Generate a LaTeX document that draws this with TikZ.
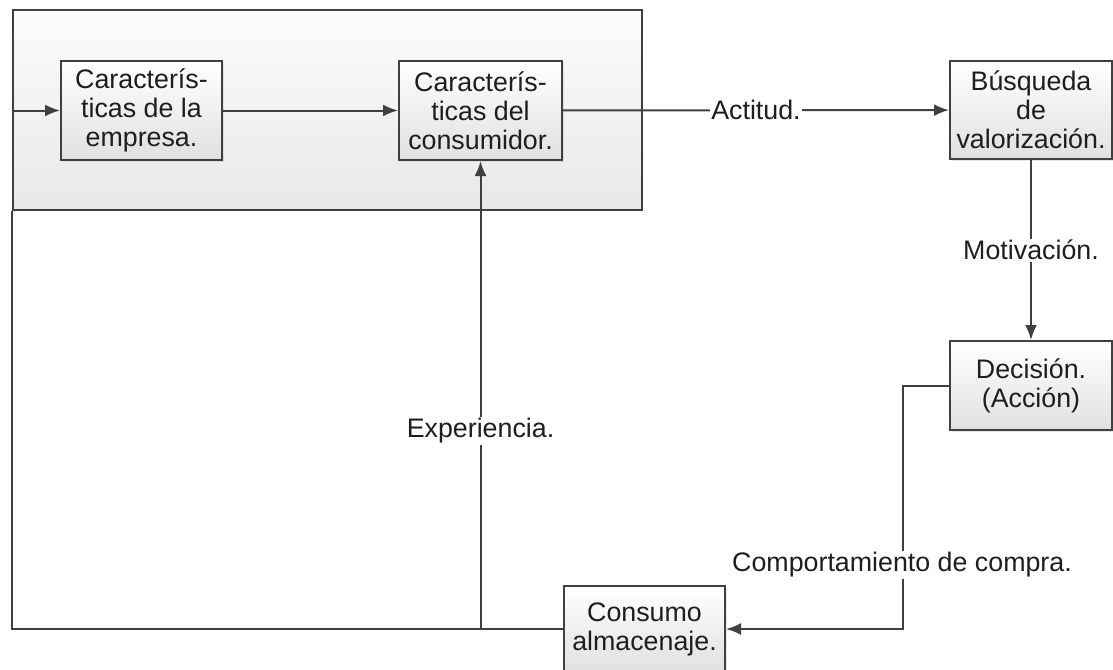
\documentclass[tikz,border=0pt]{standalone}
\usepackage{fontspec}
\setmainfont{Liberation Sans}
\usetikzlibrary{arrows.meta,shadows}

\definecolor{linea}{HTML}{404040}
\definecolor{texto}{HTML}{1E1E1E}

\tikzset{
  caja/.style={draw=linea, line width=2pt, top color=white, bottom color=black!12,
    minimum width=#1, inner sep=2pt, align=center, text=texto,
    drop shadow={opacity=0.18, shadow xshift=1.5pt, shadow yshift=-1.5pt},
    font=\fontsize{26.8}{29}\selectfont},
  etiqueta/.style={fill=white, inner sep=1.5pt, text=texto,
    font=\fontsize{26.8}{29}\selectfont},
  flecha/.style={draw=linea, line width=2pt, -{Latex[length=15pt,width=12pt]}},
  linea/.style={draw=linea, line width=2pt}
}

\begin{document}
\begin{tikzpicture}[x=1pt, y=-1pt]
        \useasboundingbox (0,0) rectangle (1113,669);
        \node[draw=linea, line width=2pt, top color=black!1, bottom color=black!9,
          minimum width=629pt, minimum height=200pt, inner sep=0pt] (entorno) at (327.5,110) {};

        \node[caja=161pt, minimum height=99pt] (empresa) at (141.5,110.5) {Caracterís-\\ticas de la\\empresa.};
        \node[caja=163pt, minimum height=99pt] (consumidor) at (480.5,110.5) {Caracterís-\\ticas del\\consumidor.};
        \node[caja=162pt, minimum height=98pt] (busqueda) at (1031,110) {Búsqueda\\de\\valorización.};
        \node[caja=162pt, minimum height=89pt] (decision) at (1031,385.5) {Decisión.\\(Acción)};
        \node[caja=161pt, minimum height=86pt] (consumo) at (644.5,629) {Consumo\\almacenaje.};

        \coordinate (giro) at (903,629);
        \coordinate (union) at (consumidor.south |- consumo.west);

        \draw[flecha] (entorno.west |- empresa.west) -- (empresa.west);
        \draw[flecha] (empresa) -- (consumidor);
        \draw[flecha] (consumidor) -- (busqueda) node[etiqueta, pos=0.5] {Actitud.};
        \draw[flecha] (busqueda) -- (decision) node[etiqueta, pos=0.5] {Motivación.};
        \draw[flecha] (decision.west) -| (giro) -- (consumo.east);
        \node[etiqueta] (compra) at (902,565) {Comportamiento de compra.};
        \draw[linea] (consumo.west) -| (entorno.south west);
        \draw[flecha] (union) -- (consumidor.south) node[etiqueta, pos=0.424] {Experiencia.};
    \end{tikzpicture}
\end{document}
